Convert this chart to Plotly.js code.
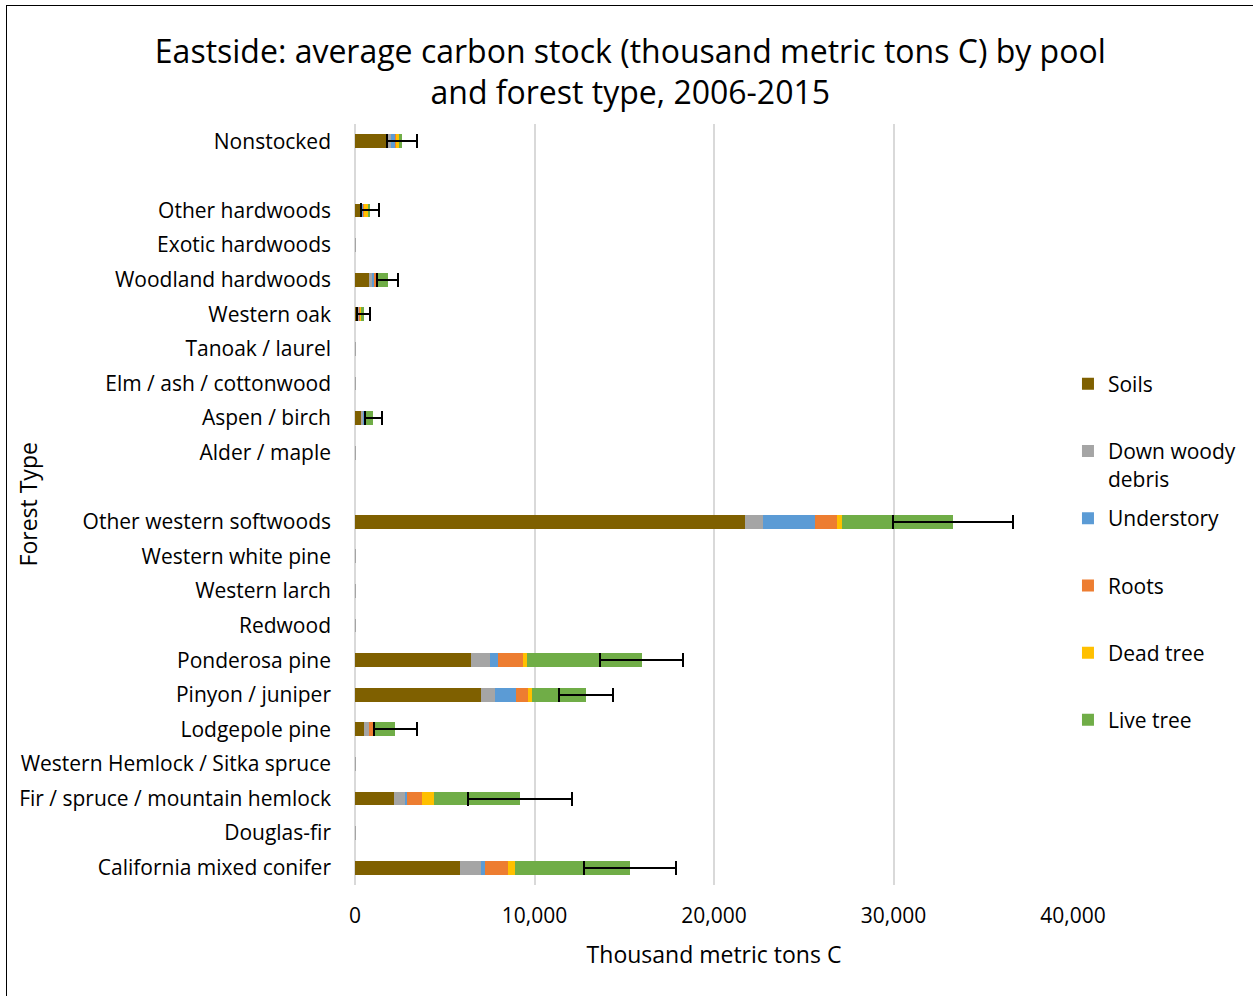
<!DOCTYPE html>
<html>
<head>
<meta charset="utf-8">
<script src="https://cdn.plot.ly/plotly-3.0.1.min.js"></script>
<style>
  html, body { margin: 0; padding: 0; overflow: hidden; background: #fff; }
  #chart { width: 1253px; height: 996px; }
  #frame { position: absolute; left: 6px; top: 5px; width: 1400px; height: 1200px; border: 1.5px solid #000; pointer-events: none; }
</style>
</head>
<body>
<div id="chart"></div>
<div id="frame"></div>
<script>
// Categories, top to bottom (blank strings are empty spacer rows)
const categories = ["Nonstocked", " ", "Other hardwoods", "Exotic hardwoods", "Woodland hardwoods", "Western oak",
  "Tanoak / laurel", "Elm / ash / cottonwood", "Aspen / birch", "Alder / maple", "  ",
  "Other western softwoods", "Western white pine", "Western larch", "Redwood", "Ponderosa pine",
  "Pinyon / juniper", "Lodgepole pine", "Western Hemlock / Sitka spruce", "Fir / spruce / mountain hemlock",
  "Douglas-fir", "California mixed conifer"];

// Carbon pools (thousand metric tons C)
const soils      = [1850, null, 300, null, 800, 180, null, null, 340, null, null, 21740, null, null, null, 6460, 7000, 500, null, 2170, null, 5850];
const downWoody  = [170, null, 80, 30, 130, 50, 30, 30, 120, 30, null, 1010, 30, 30, 30, 1060, 780, 260, 30, 630, 30, 1150];
const understory = [220, null, 60, null, 110, 20, null, null, 30, null, null, 2900, null, null, null, 460, 1190, 30, null, 100, null, 260];
const roots      = [50, null, 60, null, 110, 50, null, null, 30, null, null, 1200, null, null, null, 1400, 690, 280, null, 830, null, 1260];
const deadTree   = [180, null, 240, null, 90, 30, null, null, 20, null, null, 280, null, null, null, 180, 220, 50, null, 670, null, 390];
const liveTree   = [140, null, 80, null, 580, 150, null, null, 490, null, null, 6200, null, null, null, 6410, 2990, 1130, null, 4790, null, 6410];
const totalError = [820, null, 490, null, 590, 350, null, null, 490, null, null, 3350, null, null, null, 2300, 1500, 1180, null, 2900, null, 2550];

const seriesNames = ["Soils<br>&nbsp;", "Down woody<br>debris", "Understory<br>&nbsp;", "Roots<br>&nbsp;", "Dead tree<br>&nbsp;", "Live tree<br>&nbsp;"];
const seriesValues = [soils, downWoody, understory, roots, deadTree, liveTree];
const seriesColors = ["#7f6000", "#a5a5a5", "#5b9bd5", "#ed7d31", "#ffc000", "#70ad47"];

const FONT = "Open Sans, Noto Sans, sans-serif";

const traces = seriesValues.map((vals, i) => {
  const t = {
    type: "bar",
    orientation: "h",
    name: seriesNames[i],
    legendgroup: "g" + i,
    y: categories,
    x: vals,
    marker: { color: seriesColors[i], line: { width: 0 } },
    hoverinfo: "x+y"
  };
  if (i === seriesValues.length - 1) {
    t.error_x = { type: "data", array: totalError, visible: true, color: "#000", thickness: 2, width: 7 };
  }
  return t;
});

const layout = {
  width: 1253,
  height: 996,
  margin: { l: 355, r: 180, t: 124, b: 111, autoexpand: false },
  paper_bgcolor: "#fff",
  plot_bgcolor: "#fff",
  barmode: "stack",
  bargap: 0.6,
  font: { family: FONT, color: "#000", size: 21 },
  title: {
    text: "Eastside: average carbon stock (thousand metric tons C) by pool<br>and forest type, 2006-2015",
    font: { family: FONT, size: 32, color: "#000" },
    x: 0.503, xanchor: "center",
    y: 0.937, yanchor: "top"
  },
  xaxis: {
    range: [0, 40000],
    tickvals: [0, 10000, 20000, 30000, 40000],
    ticktext: ["0", "10,000", "20,000", "30,000", "40,000"],
    showgrid: true, gridcolor: "#d9d9d9", gridwidth: 2,
    zeroline: true, zerolinecolor: "#d9d9d9", zerolinewidth: 2,
    showline: false, ticks: "",
    ticklabelstandoff: 16,
    tickfont: { family: FONT, size: 21, color: "#000" },
    title: { text: "Thousand metric tons C", font: { family: FONT, size: 23, color: "#000" }, standoff: 18 }
  },
  yaxis: {
    type: "category",
    categoryorder: "array",
    categoryarray: categories,
    autorange: "reversed",
    showgrid: false, showline: false, ticks: "", zeroline: false,
    ticklabelstandoff: 23,
    tickfont: { family: FONT, size: 21, color: "#000" }
  },
  annotations: [{
    text: "Forest Type",
    textangle: -90,
    xref: "paper", yref: "paper",
    x: -0.4555, y: 0.5,
    xanchor: "center", yanchor: "middle",
    showarrow: false,
    font: { family: FONT, size: 23, color: "#000" }
  }],
  showlegend: true,
  legend: {
    x: 0.993, xanchor: "left",
    y: 0.685, yanchor: "top",
    traceorder: "grouped",
    tracegroupgap: 9.6,
    valign: "top",
    font: { family: FONT, size: 21, color: "#000" },
    bgcolor: "rgba(0,0,0,0)"
  }
};

Plotly.newPlot("chart", traces, layout, { displayModeBar: false, staticPlot: true });
</script>
</body>
</html>
